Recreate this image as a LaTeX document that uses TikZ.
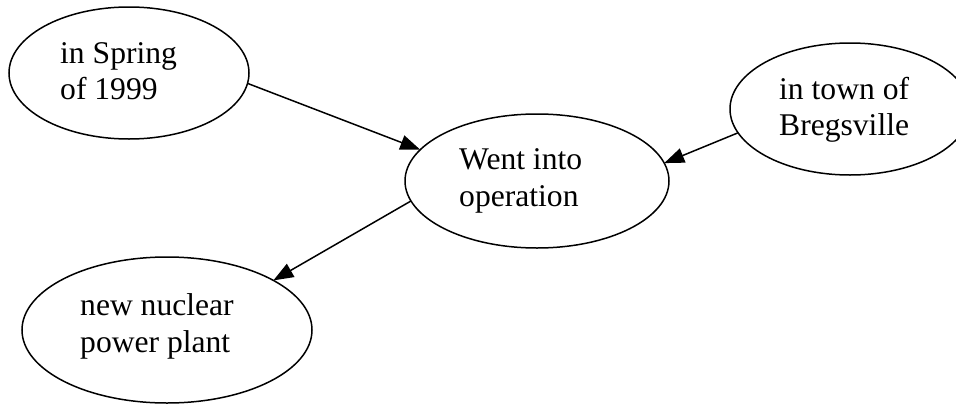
\documentclass[tikz,border=0pt]{standalone}
\usepackage{fontspec}
\setmainfont{Liberation Serif}
\usetikzlibrary{shapes.geometric,arrows.meta}

\begin{document}
\begin{tikzpicture}[x=1pt,y=-1pt,
  bubble/.style={ellipse,draw,line width=1.5pt,inner sep=0pt,outer sep=0pt},
  label/.style={anchor=base west,inner sep=0pt,align=left,
    font=\fontsize{31.6}{36.5}\selectfont},
  link/.style={line width=1.5pt,-{Triangle[length=20pt,width=15pt]}}]
\useasboundingbox (0,0) rectangle (956,407);

% ellipses
\node[bubble,minimum width=240pt,minimum height=132pt] (spring) at (129,73) {};
\node[bubble,minimum width=264pt,minimum height=134pt] (went) at (537,181) {};
\node[bubble,minimum width=240pt,minimum height=132pt] (town) at (850,109) {};
\node[bubble,minimum width=290pt,minimum height=146pt] (plant) at (167,330) {};

% texts (anchored at the baseline of the last line)
\node[label] (t1) at (60,99.5) {in Spring\\of 1999};
\node[label] (t2) at (459,206) {Went into\\operation};
\node[label] (t3) at (779,135.5) {in town of\\Bregsville};
\node[label] (t4) at (80,352) {new nuclear\\power plant};

% connectors
\draw[link] (spring.-5.6) -- (went.165.2);
\draw[link] (town.192.5) -- (went.8.1);
\draw[link] (went.189.7) -- (plant.25.3);
\end{tikzpicture}
\end{document}
